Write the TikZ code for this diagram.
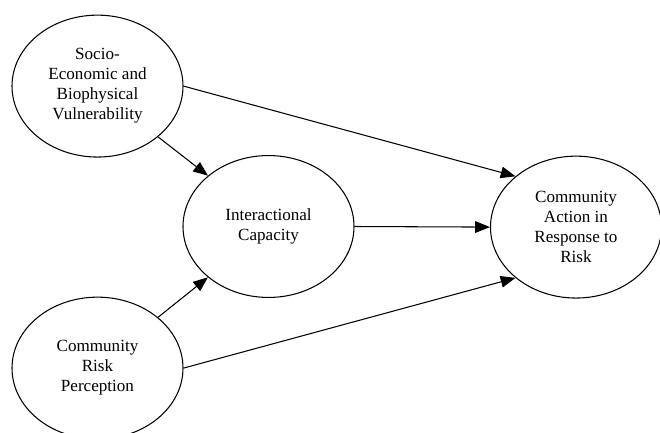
\documentclass[tikz,border=0pt]{standalone}
\usepackage{fontspec}
\setmainfont{Liberation Serif}
\usepackage{tikz}
\usetikzlibrary{shapes.geometric, arrows.meta}

\tikzset{
  factor/.style={ellipse, draw, line width=1pt, minimum width=5.7cm, minimum height=4.73cm,
    inner sep=0pt, align=center, font=\fontsize{16.2}{19}\selectfont},
  link/.style={line width=1pt, -{Triangle[length=14pt,width=11pt]}}
}

\begin{document}
\begin{tikzpicture}
\useasboundingbox (0,0) rectangle (22,14.4);

% Factors
\node[factor] (vuln) at (3.25,11.53) {Socio-\\Economic and\\Biophysical\\Vulnerability};
\node[factor] (capacity) at (8.95,6.85) {Interactional\\Capacity};
\node[factor] (action) at (19.2,6.83) {Community\\Action in\\Response to\\Risk};
\node[factor] (perception) at (3.25,2.13) {Community\\Risk\\Perception};

% Paths
\draw[link] (vuln.east) -- (action.140);
\draw[link] (vuln.-40) -- (capacity.140);
\draw[link] (capacity.east) -- (action.west);
\draw[link] (perception.40) -- (capacity.220);
\draw[link] (perception.east) -- (action.220);
\end{tikzpicture}
\end{document}
